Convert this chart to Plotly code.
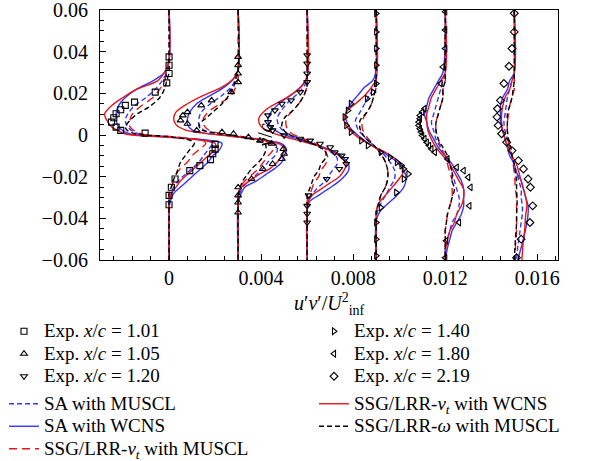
import plotly.graph_objects as go

# ---------------- data ----------------
OFFSETS = [0.0, 0.003, 0.006, 0.009, 0.012, 0.015]   # horizontal shift of each station

# station x/c = 1.01
P1_Y = [0.06, 0.036, 0.030, 0.026, 0.022, 0.018, 0.014, 0.010, 0.007, 0.004, 0.002, 0.0005, -0.001, -0.0025,
        -0.004, -0.007, -0.010, -0.013, -0.016, -0.019, -0.022, -0.025, -0.028, -0.032, -0.036, -0.06]
P1_SA_MUSCL = [0, 0, -0.0001, -0.0003, -0.0006, -0.0010, -0.0015, -0.0018, -0.0019, -0.0018, -0.0016, -0.0013, 0.0002,
               0.0015, 0.0019, 0.0017, 0.0015, 0.0013, 0.0010, 0.0007, 0.0004, 0.0002, 0.0001, 0, 0, 0]
P1_SA_WCNS = [0, 0, -0.0002, -0.0007, -0.0014, -0.0019, -0.0022, -0.0023, -0.0023, -0.0022, -0.0020, -0.0017, 0.0000,
              0.0017, 0.0023, 0.0022, 0.0019, 0.0017, 0.0014, 0.0011, 0.0008, 0.0005, 0.0002, 0.00005, 0, 0]
P1_NT_MUSCL = [0, 0, -0.0001, -0.0002, -0.0004, -0.0007, -0.0012, -0.0016, -0.0017, -0.0017, -0.0015, -0.0012, 0.0003,
               0.0014, 0.0016, 0.0013, 0.0010, 0.0008, 0.0005, 0.0003, 0.0002, 0.0001, 0, 0, 0, 0]
P1_NT_WCNS = [0, 0, -0.0002, -0.0005, -0.0014, -0.0020, -0.0025, -0.0028, -0.0027, -0.0025, -0.0022, -0.0019, -0.0001,
              0.0014, 0.0020, 0.0020, 0.0017, 0.0014, 0.0011, 0.0008, 0.0005, 0.0003, 0.0001, 0, 0, 0]
P1_OM_MUSCL = [0, 0, 0, -0.0001, -0.0002, -0.0004, -0.0008, -0.0014, -0.0017, -0.0019, -0.0018, -0.0014, 0.0002,
               0.0009, 0.0011, 0.0009, 0.0007, 0.0005, 0.0004, 0.0003, 0.00017, 0.0001, 0, 0, 0, 0]

# station x/c = 1.05
P2_Y = [0.06, 0.031, 0.027, 0.023, 0.019, 0.015, 0.011, 0.008, 0.005, 0.0025, 0.001, -0.0005, -0.002, -0.0035,
        -0.005, -0.0075, -0.010, -0.013, -0.016, -0.019, -0.022, -0.025, -0.029, -0.033, -0.06]
P2_SA_MUSCL = [0, 0, -0.0001, -0.0003, -0.0007, -0.0012, -0.0016, -0.0017, -0.0017, -0.0015, -0.0011, -0.0001, 0.0008,
               0.0014, 0.0017, 0.0017, 0.0016, 0.0013, 0.0011, 0.0008, 0.0005, 0.0002, 0.00005, 0, 0]
P2_SA_WCNS = [0, 0, -0.0002, -0.0006, -0.0012, -0.0018, -0.0021, -0.0022, -0.0022, -0.0020, -0.0015, -0.0003, 0.0009,
              0.0017, 0.0020, 0.0021, 0.0020, 0.0019, 0.0016, 0.0012, 0.0008, 0.0003, 0.0001, 0, 0]
P2_NT_MUSCL = [0, 0, 0, -0.0001, -0.0003, -0.0008, -0.0013, -0.0015, -0.0015, -0.0013, -0.0009, 0.0, 0.0008,
               0.0013, 0.0015, 0.0015, 0.0013, 0.0011, 0.0009, 0.0006, 0.0003, 0.0001, 0, 0, 0]
P2_NT_WCNS = [0, 0, -0.0002, -0.0007, -0.0015, -0.0022, -0.0027, -0.0028, -0.0027, -0.0023, -0.0016, -0.0004, 0.0008,
              0.0016, 0.0019, 0.0020, 0.0019, 0.0017, 0.0014, 0.0009, 0.0005, 0.00015, 0, 0, 0]
P2_OM_MUSCL = [0, 0, -0.0001, -0.0002, -0.0004, -0.0007, -0.0011, -0.0014, -0.0017, -0.0016, -0.0010, -0.0001, 0.0006,
               0.0010, 0.0012, 0.0012, 0.0011, 0.0009, 0.0006, 0.0004, 0.0002, 0.0001, 0, 0, 0]

# station x/c = 1.20
P3_Y = [0.06, 0.028, 0.024, 0.020, 0.016, 0.012, 0.008, 0.004, 0.001, -0.002, -0.005, -0.008, -0.011, -0.014,
        -0.017, -0.020, -0.023, -0.026, -0.029, -0.032, -0.036, -0.06]
P3_SA_MUSCL = [0, 0, -0.0001, -0.0004, -0.0008, -0.0011, -0.0013, -0.0012, -0.0009, -0.0002, 0.0005, 0.0010, 0.0013,
               0.0013, 0.0011, 0.0009, 0.0007, 0.0004, 0.0002, 0.00005, 0, 0]
P3_SA_WCNS = [0, 0, -0.0002, -0.0006, -0.0011, -0.0015, -0.0017, -0.0016, -0.0012, -0.0004, 0.0005, 0.0012, 0.0016,
              0.0018, 0.0018, 0.0016, 0.0013, 0.0009, 0.0005, 0.0001, 0, 0]
P3_NT_MUSCL = [0, 0, 0, -0.0001, -0.0003, -0.0006, -0.0009, -0.0009, -0.0007, -0.0001, 0.0005, 0.0008, 0.0009,
               0.0008, 0.0006, 0.0005, 0.0003, 0.0002, 0.0001, 0, 0, 0]
P3_NT_WCNS = [0, 0, -0.0002, -0.0006, -0.0012, -0.0018, -0.0021, -0.0020, -0.0015, -0.0006, 0.0004, 0.0011, 0.0015,
              0.0017, 0.0016, 0.0014, 0.0010, 0.0006, 0.0002, 0.00005, 0, 0]
P3_OM_MUSCL = [0, 0, 0, -0.0001, -0.0003, -0.0006, -0.0010, -0.0011, -0.0009, -0.0003, 0.0004, 0.0008, 0.0008,
               0.0006, 0.0005, 0.0003, 0.0002, 0.0001, 0, 0, 0, 0]

# station x/c = 1.40
P4_Y = [0.06, 0.027, 0.023, 0.019, 0.015, 0.011, 0.007, 0.003, -0.001, -0.005, -0.009, -0.013, -0.017, -0.021,
        -0.025, -0.029, -0.033, -0.037, -0.041, -0.06]
P4_SA_MUSCL = [0, 0, -0.0001, -0.0003, -0.0005, -0.0007, -0.0009, -0.0008, -0.0005, -0.0001, 0.0003, 0.0006, 0.0008,
               0.0008, 0.0006, 0.0004, 0.0002, 0.00005, 0, 0]
P4_SA_WCNS = [0, -0.0001, -0.0005, -0.0008, -0.0011, -0.0013, -0.0013, -0.0011, -0.0007, -0.0002, 0.0004, 0.0009,
              0.0012, 0.0013, 0.0012, 0.0009, 0.0005, 0.00015, 0, 0]
P4_NT_MUSCL = [0, 0, 0, -0.0001, -0.0002, -0.0004, -0.0006, -0.0006, -0.0004, -0.0001, 0.0002, 0.0004, 0.0005,
               0.0005, 0.0004, 0.0002, 0.0001, 0, 0, 0]
P4_NT_WCNS = [0, 0, -0.0002, -0.0005, -0.0009, -0.0013, -0.0014, -0.0012, -0.0008, -0.0002, 0.0005, 0.0010, 0.0012,
              0.0010, 0.0007, 0.0004, 0.0001, 0, 0, 0]
P4_OM_MUSCL = [0, 0, 0, -0.0001, -0.0002, -0.0004, -0.0007, -0.0007, -0.0005, -0.0001, 0.0002, 0.0004, 0.0005,
               0.0005, 0.0004, 0.0002, 0.0001, 0, 0, 0]

# station x/c = 1.80
P5_Y = [0.06, 0.03, 0.026, 0.022, 0.018, 0.014, 0.010, 0.006, 0.002, -0.002, -0.006, -0.010, -0.014, -0.018,
        -0.022, -0.026, -0.030, -0.034, -0.038, -0.042, -0.046, -0.050, -0.054, -0.06]
P5_SA_MUSCL = [0, 0, -0.0001, -0.0002, -0.0003, -0.0004, -0.0005, -0.0006, -0.0005, -0.0004, -0.0002, 0.0000, 0.0002,
               0.0003, 0.0004, 0.0005, 0.0006, 0.0006, 0.0005, 0.0003, 0.0002, 0.0001, 0, 0]
P5_SA_WCNS = [0, -0.0001, -0.0003, -0.0005, -0.0007, -0.0008, -0.0009, -0.0008, -0.0007, -0.0005, -0.0003, 0.0000,
              0.0003, 0.0005, 0.0007, 0.0008, 0.0008, 0.0008, 0.0007, 0.0005, 0.0003, 0.0002, 0.0001, 0]
P5_NT_MUSCL = [0, 0, 0, -0.0001, -0.0001, -0.0002, -0.0003, -0.0004, -0.0004, -0.0003, -0.0002, 0, 0.0001, 0.0002,
               0.0003, 0.0003, 0.0003, 0.0002, 0.0001, 0.00005, 0, 0, 0, 0]
P5_NT_WCNS = [0, 0, -0.0002, -0.0004, -0.0006, -0.0007, -0.0008, -0.0008, -0.00075, -0.0006, -0.0004, -0.0001,
              0.0002, 0.0004, 0.0006, 0.0008, 0.0008, 0.0007, 0.0005, 0.0004, 0.0002, 0.0001, 0.00003, 0]
P5_OM_MUSCL = [0, 0, 0, -0.0001, -0.0001, -0.0002, -0.0003, -0.0004, -0.0004, -0.0003, -0.0001, 0.0001, 0.0002,
               0.0003, 0.0003, 0.0004, 0.0003, 0.0002, 0.0001, 0.00005, 0, 0, 0, 0]

# station x/c = 2.19
P6_Y = [0.06, 0.03, 0.026, 0.022, 0.018, 0.014, 0.010, 0.006, 0.002, -0.002, -0.006, -0.010, -0.014, -0.018,
        -0.022, -0.026, -0.030, -0.034, -0.038, -0.042, -0.046, -0.050, -0.054, -0.06]
P6_SA_MUSCL = [0, 0, -0.0001, -0.0002, -0.0003, -0.00035, -0.0004, -0.00045, -0.0004, -0.0003, -0.0002, -0.0001, 0.0,
               0.0001, 0.0002, 0.0003, 0.0003, 0.00035, 0.00035, 0.0003, 0.00025, 0.0002, 0.00015, 0.0001]
P6_SA_WCNS = [0, 0, -0.0002, -0.0003, -0.0005, -0.0006, -0.0006, -0.0006, -0.0005, -0.0004, -0.0003, -0.0002, 0.0,
              0.0001, 0.0003, 0.0004, 0.0005, 0.0006, 0.0006, 0.00055, 0.00048, 0.0004, 0.0003, 0.00015]
P6_NT_MUSCL = [0, 0, 0, 0, -0.0001, -0.0002, -0.00025, -0.0003, -0.0003, -0.00025, -0.0002, -0.0001, -0.00005, 0,
               0.00003, 0.00005, 0.0001, 0.0001, 0.0001, 0.0001, 0.0001, 0.00008, 0.00005, 0.00005]
P6_NT_WCNS = [0, 0, -0.0001, -0.0002, -0.0004, -0.0005, -0.00055, -0.00055, -0.0005, -0.0004, -0.00025, -0.0001,
              0.0001, 0.0002, 0.0003, 0.0004, 0.0005, 0.00055, 0.0005, 0.00047, 0.00045, 0.0004, 0.00037, 0.00033]
P6_OM_MUSCL = [0, 0, 0, -0.00005, -0.0001, -0.0002, -0.0003, -0.0003, -0.0003, -0.00025, -0.00015, -0.0001, 0,
               0.00005, 0.0001, 0.0001, 0.00012, 0.00012, 0.0001, 0.0001, 0.00008, 0.00005, 0.00003, 0]

# experiments
EXP1_Y = [0.0375, 0.0335, 0.0295, 0.025, 0.0206, 0.0158, 0.0142, 0.0121, 0.0102, 0.0083, 0.0062, 0.0038, 0.0022,
          0.0009, -0.0045, -0.0068, -0.009, -0.0118, -0.0147, -0.0171, -0.0211, -0.0251, -0.029, -0.0335]
EXP1_UV = [0.0, 0.0, 0.0, -0.0001, -0.0006, -0.0015, -0.0019, -0.0021, -0.0023, -0.0024, -0.0025, -0.0023, -0.0021,
           -0.00104, 0.0020, 0.0020, 0.0019, 0.0018, 0.00134, 0.0009, 0.00026, 0.0001, 0.0, 0.0]
EXP2_Y = [0.0375, 0.0335, 0.0295, 0.0254, 0.0206, 0.0166, 0.0142, 0.011, 0.0094, 0.007, 0.0054, 0.0022, 0.0014,
          0.0006, -0.001, -0.0027, -0.0042, -0.0067, -0.009, -0.0115, -0.0139, -0.0163, -0.0211, -0.0251, -0.029,
          -0.0324, -0.0372]
EXP2_UV = [0, 0, 0, 0, -0.0003, -0.00115, -0.0016, -0.0022, -0.0024, -0.0025, -0.0022, -0.0018, -0.0007, -0.0002,
           0.00045, 0.00095, 0.00146, 0.00197, 0.0020, 0.0019, 0.0015, 0.00107, 0.00058, 0, 0, 0, 0]
EXP3_Y = [0.0383, 0.0343, 0.0295, 0.0254, 0.0206, 0.0166, 0.015, 0.0118, 0.0094, 0.0062, 0.0038, 0.0022, -0.0002,
          -0.0018, -0.0027, -0.0042, -0.0059, -0.0083, -0.0099, -0.0115, -0.0139, -0.0163, -0.0211, -0.029, -0.034,
          -0.0378, -0.042]
EXP3_UV = [0, 0, 0, 0, -0.0003, -0.0007, -0.0011, -0.0014, -0.0017, -0.0017, -0.0016, -0.0015, -0.001, -0.0003,
           0.00013, 0.00056, 0.001, 0.0012, 0.0015, 0.00165, 0.0017, 0.0014, 0.00085, 0.00006, 0, 0, 0]
EXP4_Y = [0.0583, 0.0495, 0.0415, 0.0335, 0.0247, 0.0206, 0.0174, 0.015, 0.0118, 0.0086, 0.0046, 0.0014, -0.0027,
          -0.005, -0.0083, -0.0107, -0.0131, -0.0147, -0.0163, -0.0187, -0.0211, -0.0276, -0.0348, -0.042, -0.05,
          -0.058]
EXP4_UV = [0, 0, 0, 0, 0, -0.00014, -0.0004, -0.0011, -0.00123, -0.00137, -0.0013, -0.0011, -0.00065, -0.00036,
           0.0002, 0.0006, 0.0009, 0.0011, 0.0012, 0.0014, 0.0012, 0.00087, 0.0002, 0, 0, 0]
EXP5_Y = [0.0592, 0.0504, 0.0415, 0.0327, 0.0247, 0.0126, 0.011, 0.0094, 0.0078, 0.0062, 0.0046, 0.003, 0.0014,
          -0.0002, -0.0018, -0.0035, -0.0051, -0.0067, -0.0083, -0.0115, -0.0155, -0.0171, -0.0203, -0.0251, -0.034,
          -0.042, -0.0508, -0.0589]
EXP5_UV = [0, 0, 0, -0.0001, -0.0002, -0.0009, -0.001, -0.0011, -0.0011, -0.00115, -0.00115, -0.0011, -0.00105,
           -0.001, -0.0009, -0.0008, -0.0007, -0.0006, -0.00045, 0.0001, 0.0005, 0.0008, 0.001, 0.0011, 0.00105,
           0.0006, 0.00004, 0]
EXP6_Y = [0.0584, 0.0495, 0.0415, 0.033, 0.0247, 0.0166, 0.0126, 0.0086, 0.0046, 0.0006, -0.0035, -0.0075, -0.0123,
          -0.0163, -0.0211, -0.0251, -0.034, -0.042, -0.05, -0.0589]
EXP6_UV = [0, 0, -0.0001, -0.00023, -0.00045, -0.0006, -0.00073, -0.00075, -0.0007, -0.00055, -0.00033, -0.0001,
           0.00018, 0.0004, 0.0006, 0.0007, 0.0008, 0.00068, 0.0003, 0.0001]

EXP_LABELS = ["1.01", "1.05", "1.20", "1.40", "1.80", "2.19"]
X_TICKS = [0, 0.004, 0.008, 0.012, 0.016]
Y_TICKS = [-0.06, -0.04, -0.02, 0, 0.02, 0.04, 0.06]

# ---------------- figure ----------------
FONT = "Liberation Serif, Times New Roman, DejaVu Serif, serif"
BLUE = "#3535ff"
RED = "#e3171b"
BLACK = "#000000"

PROFILE_Y = [P1_Y, P2_Y, P3_Y, P4_Y, P5_Y, P6_Y]
MODELS = [
    ("SA with MUSCL", [P1_SA_MUSCL, P2_SA_MUSCL, P3_SA_MUSCL, P4_SA_MUSCL, P5_SA_MUSCL, P6_SA_MUSCL],
     BLUE, "5px,3px", "legend"),
    ("SA with WCNS", [P1_SA_WCNS, P2_SA_WCNS, P3_SA_WCNS, P4_SA_WCNS, P5_SA_WCNS, P6_SA_WCNS],
     BLUE, "solid", "legend"),
    ("SSG/LRR-<i>ν<sub>t</sub></i> with MUSCL", [P1_NT_MUSCL, P2_NT_MUSCL, P3_NT_MUSCL, P4_NT_MUSCL, P5_NT_MUSCL, P6_NT_MUSCL],
     RED, "8px,5px", "legend"),
    ("SSG/LRR-<i>ν<sub>t</sub></i> with WCNS", [P1_NT_WCNS, P2_NT_WCNS, P3_NT_WCNS, P4_NT_WCNS, P5_NT_WCNS, P6_NT_WCNS],
     RED, "solid", "legend2"),
    ("SSG/LRR-<i>ω</i> with MUSCL", [P1_OM_MUSCL, P2_OM_MUSCL, P3_OM_MUSCL, P4_OM_MUSCL, P5_OM_MUSCL, P6_OM_MUSCL],
     BLACK, "5px,3px", "legend2"),
]
EXP = [(EXP1_Y, EXP1_UV, "square-open", "legend"),
       (EXP2_Y, EXP2_UV, "triangle-up-open", "legend"),
       (EXP3_Y, EXP3_UV, "triangle-down-open", "legend"),
       (EXP4_Y, EXP4_UV, "triangle-right-open", "legend2"),
       (EXP5_Y, EXP5_UV, "triangle-left-open", "legend2"),
       (EXP6_Y, EXP6_UV, "diamond-open", "legend2")]

LEG_SIZE = 19

def span(t):
    return f'<span style="font-size:{LEG_SIZE}px">{t}</span>'

fig = go.Figure()

for k, (name, series, color, dash, leg) in enumerate(MODELS):
    xs, ys = [], []
    for off, yy, uv in zip(OFFSETS, PROFILE_Y, series):
        xs += [u + off for u in uv] + [None]
        ys += list(yy) + [None]
    fig.add_trace(go.Scatter(
        x=xs, y=ys, mode="lines", name=span(name),
        line=dict(color=color, width=1.4, dash=dash, shape="spline", smoothing=0.9),
        legend=leg, legendgroup="cfd", legendrank=100 + k, connectgaps=False))

for k, ((yy, uv, sym, leg), off, lab) in enumerate(zip(EXP, OFFSETS, EXP_LABELS)):
    fig.add_trace(go.Scatter(
        x=[u + off for u in uv], y=yy, mode="markers",
        name=span(f"Exp. <i>x</i>/<i>c</i> = {lab}"),
        marker=dict(symbol=sym, size=6, color="black", line=dict(color="black", width=1.1)),
        legend=leg, legendgroup="exp", legendrank=k + 1))

axis_common = dict(
    showgrid=False, zeroline=False, showline=True, linecolor="black", linewidth=1.2, mirror=True,
    ticks="inside", ticklen=6, tickwidth=1, tickcolor="black", ticklabeloverflow="allow",
    tickfont=dict(family=FONT, size=20, color="black"),
)

fig.update_xaxes(
    range=[-0.003, 0.0169], tickvals=X_TICKS, ticktext=["0", "0.004", "0.008", "0.012", "0.016"],
    minor=dict(ticks="inside", ticklen=3.5, tickwidth=1, tickcolor="black", dtick=0.0008, tick0=0),
    ticklabelstandoff=0,
    **axis_common)
fig.update_yaxes(
    range=[-0.0600001, 0.0600001], tickvals=Y_TICKS,
    ticktext=["−0.06", "−0.04", "−0.02", "0", "0.02", "0.04", "0.06"],
    minor=dict(ticks="inside", ticklen=3.5, tickwidth=1, tickcolor="black", dtick=0.005, tick0=0),
    ticklabelstandoff=7,
    title=dict(text="<i>y</i>/<i>c</i>", font=dict(family=FONT, size=20, color="black"), standoff=18),
    **axis_common)

# x-axis title placed just below the tick labels
fig.add_annotation(
    text="<i>u</i>′<i>v</i>′/<i>U</i><sup>2</sup><sub>inf</sub>",
    xref="paper", yref="paper", x=0.5, y=(260 - 304) / 250, xanchor="center", yanchor="middle",
    showarrow=False, font=dict(family=FONT, size=20, color="black"))

leg_common = dict(
    xref="container", yref="container", yanchor="top", xanchor="left",
    bgcolor="rgba(0,0,0,0)", borderwidth=0, orientation="v",
    font=dict(family=FONT, size=15, color="black"),
    traceorder="grouped", tracegroupgap=5, itemwidth=30,
)

fig.update_layout(
    width=608, height=461,
    margin=dict(l=100, r=50, t=10, b=201, autoexpand=False),
    paper_bgcolor="white", plot_bgcolor="white",
    font=dict(family=FONT, color="black"),
    legend=dict(x=4 / 608, y=1 - 315 / 461, **leg_common),
    legend2=dict(x=314 / 608, y=1 - 315 / 461, **leg_common),
)

fig.write_html("out.html")
